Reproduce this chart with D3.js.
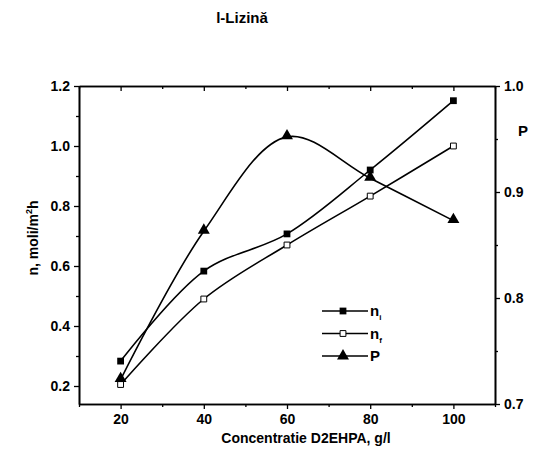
<!DOCTYPE html>
<html>
<head>
<meta charset="utf-8">
<script src="https://cdn.jsdelivr.net/npm/d3@7"></script>
<style>
  html, body { margin: 0; padding: 0; background: #fff; }
  svg { display: block; font-family: "Liberation Sans", Arial, sans-serif; }
</style>
</head>
<body>
<svg id="chart" width="539" height="459"></svg>
<script>
// Concentration of D2EHPA (g/l)
const concentration = [20, 40, 60, 80, 100];
// Fluxes (left axis)
const nI = [0.283, 0.583, 0.707, 0.92, 1.151];
const nF = [0.205, 0.49, 0.67, 0.833, 1.0];
// Factor P (right axis)
const P = [0.723, 0.863, 0.952, 0.913, 0.873];

const xTicks = [20, 40, 60, 80, 100];
const yLeftTicks = [0.2, 0.4, 0.6, 0.8, 1.0, 1.2];
const yRightTicks = [0.7, 0.8, 0.9, 1.0];

const svg = d3.select("#chart");
const m = { left: 79, right: 495, top: 86, bottom: 404 };

const x = d3.scaleLinear().domain([10, 110]).range([m.left, m.right]);
const yL = d3.scaleLinear().domain([0.14, 1.2]).range([m.bottom, m.top]);
const yR = d3.scaleLinear().domain([0.7, 1.0]).range([m.bottom, m.top]);

const fmt1 = d3.format(".1f");

function styleAxis(g) {
  g.selectAll("path.domain").attr("stroke", "#000").attr("stroke-width", 1.6);
  g.selectAll(".tick line").attr("stroke", "#000").attr("stroke-width", 1.3);
  g.selectAll("text").attr("fill", "#000").attr("font-size", 14).attr("font-weight", "bold");
}

const xMinor = [10, 30, 50, 70, 90, 110];
svg.append("g").attr("transform", `translate(0,${m.bottom})`)
  .call(d3.axisBottom(x).tickValues(xTicks).tickSize(5).tickPadding(5).tickSizeOuter(0))
  .call(styleAxis);
svg.append("g").attr("transform", `translate(0,${m.bottom})`)
  .call(d3.axisBottom(x).tickValues(xMinor).tickSize(3).tickFormat("").tickSizeOuter(0))
  .call(styleAxis);
svg.append("g").attr("transform", `translate(0,${m.top})`)
  .call(d3.axisBottom(x).tickValues(xTicks).tickSize(5).tickFormat("").tickSizeOuter(0))
  .call(styleAxis);
svg.append("g").attr("transform", `translate(0,${m.top})`)
  .call(d3.axisBottom(x).tickValues(xMinor).tickSize(3).tickFormat("").tickSizeOuter(0))
  .call(styleAxis);

const yLMinor = [0.3, 0.5, 0.7, 0.9, 1.1];
svg.append("g").attr("transform", `translate(${m.left},0)`)
  .call(d3.axisLeft(yL).tickValues(yLeftTicks).tickSize(5).tickPadding(4).tickFormat(fmt1).tickSizeOuter(0))
  .call(styleAxis);
svg.append("g").attr("transform", `translate(${m.left},0)`)
  .call(d3.axisLeft(yL).tickValues(yLMinor).tickSize(3).tickFormat("").tickSizeOuter(0))
  .call(styleAxis);

const yRMinor = [0.75, 0.85, 0.95];
svg.append("g").attr("transform", `translate(${m.right},0)`)
  .call(d3.axisRight(yR).tickValues(yRightTicks).tickSize(5).tickPadding(4).tickFormat(fmt1).tickSizeOuter(0))
  .call(styleAxis);
svg.append("g").attr("transform", `translate(${m.right},0)`)
  .call(d3.axisRight(yR).tickValues(yRMinor).tickSize(3).tickFormat("").tickSizeOuter(0))
  .call(styleAxis);

// Smooth curves through the measured points
const curve = d3.curveCatmullRom.alpha(0.5);
const lineL = d3.line().x((d, i) => x(concentration[i])).y(d => yL(d)).curve(curve);
const lineR = d3.line().x((d, i) => x(concentration[i])).y(d => yR(d)).curve(curve);

const plot = svg.append("g");
plot.append("path").attr("d", lineL(nF)).attr("fill", "none").attr("stroke", "#000").attr("stroke-width", 1.6);
plot.append("path").attr("d", lineL(nI)).attr("fill", "none").attr("stroke", "#000").attr("stroke-width", 1.6);
plot.append("path").attr("d", lineR(P)).attr("fill", "none").attr("stroke", "#000").attr("stroke-width", 1.6);

const sq = d3.symbol().type(d3.symbolSquare).size(46);
const sqOpen = d3.symbol().type(d3.symbolSquare).size(34);
const tri = d3.symbol().type(d3.symbolTriangle).size(62);

plot.selectAll(".mi").data(nI).enter().append("path")
  .attr("d", sq).attr("transform", (d, i) => `translate(${x(concentration[i])},${yL(d)})`)
  .attr("fill", "#000");
plot.selectAll(".mf").data(nF).enter().append("path")
  .attr("d", sqOpen).attr("transform", (d, i) => `translate(${x(concentration[i])},${yL(d)})`)
  .attr("fill", "#fff").attr("stroke", "#000").attr("stroke-width", 1);
plot.selectAll(".mp").data(P).enter().append("path")
  .attr("d", tri).attr("transform", (d, i) => `translate(${x(concentration[i])},${yR(d) - 1})`)
  .attr("fill", "#000");

// Legend
const legend = svg.append("g").attr("transform", "translate(322,311)");
const legendItems = [
  { sym: sq, fill: "#000", stroke: "none", main: "n", sub: "i" },
  { sym: sqOpen, fill: "#fff", stroke: "#000", main: "n", sub: "f" },
  { sym: tri, fill: "#000", stroke: "none", main: "P", sub: "" }
];
legendItems.forEach((it, k) => {
  const g = legend.append("g").attr("transform", `translate(0,${k * 22.5})`);
  g.append("line").attr("x1", 0).attr("x2", 46).attr("y1", 0).attr("y2", 0)
    .attr("stroke", "#000").attr("stroke-width", 1.6);
  g.append("path").attr("d", it.sym).attr("transform", "translate(21,0)")
    .attr("fill", it.fill).attr("stroke", it.stroke).attr("stroke-width", 1);
  const t = g.append("text").attr("x", 48).attr("y", 5).attr("font-size", 15)
    .attr("font-weight", "bold").attr("fill", "#000");
  t.append("tspan").text(it.main);
  if (it.sub) t.append("tspan").attr("font-size", 8).attr("dy", 4).text(it.sub);
});

// Title and axis titles
svg.append("text").attr("x", 242).attr("y", 23).attr("text-anchor", "middle")
  .attr("font-size", 15).attr("font-weight", "bold").attr("fill", "#000").text("l-Lizină");

svg.append("text").attr("x", 306).attr("y", 443).attr("text-anchor", "middle")
  .attr("font-size", 14).attr("font-weight", "bold").attr("fill", "#000").text("Concentratie D2EHPA, g/l");

const yt = svg.append("text").attr("transform", "translate(38,238) rotate(-90)")
  .attr("text-anchor", "middle").attr("font-size", 14).attr("font-weight", "bold").attr("fill", "#000");
yt.append("tspan").text("n, moli/m");
yt.append("tspan").attr("font-size", 9).attr("dy", -6).text("2");
yt.append("tspan").attr("dy", 6).text("h");

svg.append("text").attr("x", 518).attr("y", 136).attr("font-size", 15)
  .attr("font-weight", "bold").attr("fill", "#000").text("P");
</script>
</body>
</html>
